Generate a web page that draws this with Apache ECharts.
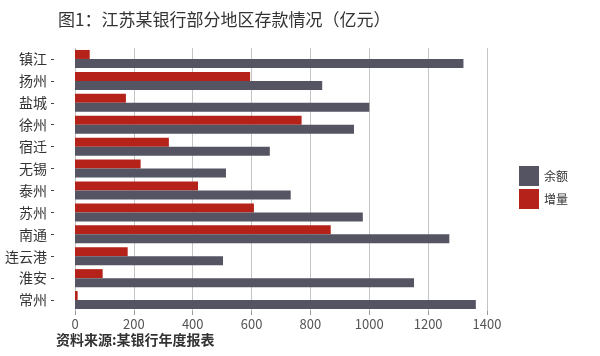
<!DOCTYPE html>
<html><head><meta charset="utf-8">
<script src="https://cdn.jsdelivr.net/npm/echarts@6/dist/echarts.min.js"></script>
<style>html,body{margin:0;padding:0;background:#fff}#c{width:600px;height:356px}</style>
</head><body><div id="c"></div>
<script>
const categories = ['镇江','扬州','盐城','徐州','宿迁','无锡','泰州','苏州','南通','连云港','淮安','常州'];
const balance = [1320, 840, 1000, 948, 662, 513, 733, 978, 1272, 503, 1152, 1362];
const increase = [50, 595, 173, 770, 319, 223, 418, 608, 869, 179, 94, 9];
const xTicks = [0, 200, 400, 600, 800, 1000, 1200, 1400];
const titleText = '图1：江苏某银行部分地区存款情况（亿元）';
const sourceText = '资料来源:某银行年度报表';

const FONT = '"Noto Sans CJK SC", "Noto Sans", sans-serif';
const chart = echarts.init(document.getElementById('c'), null, {renderer: 'canvas'});
chart.setOption({
  animation: false,
  backgroundColor: '#fff',
  title: {
    text: titleText, left: 53, top: 6,
    textStyle: {fontFamily: FONT, fontSize: 17, fontWeight: 'normal', color: '#333'}
  },
  graphic: [{
    type: 'text', left: 56, top: 333,
    style: {text: sourceText, font: 'bold 14px ' + FONT, fill: '#333'}
  }],
  legend: {
    orient: 'vertical', left: 514, top: 161,
    icon: 'rect',
    itemWidth: 20, itemHeight: 20, itemGap: 3,
    data: ['余额', '增量'],
    textStyle: {fontFamily: FONT, fontSize: 12, color: '#333'}
  },
  grid: {left: 75, right: 113, top: 48, bottom: 45, containLabel: false},
  xAxis: {
    type: 'value', min: xTicks[0], max: xTicks[xTicks.length - 1], interval: 200,
    axisLine: {show: false},
    axisTick: {show: true, length: 4, lineStyle: {color: '#999'}},
    axisLabel: {fontFamily: FONT, fontSize: 13, color: '#555', margin: 7,
      formatter: v => String(v)},
    splitLine: {show: true, lineStyle: {color: '#c4c4c4', width: 1}}
  },
  yAxis: {
    type: 'category', data: categories, inverse: true, offset: 21,
    axisLine: {show: false},
    axisTick: {show: true, interval: 0, inside: false, length: 24, alignWithLabel: true,
      lineStyle: {color: '#444', width: 1, type: [0, 21, 3, 60]}},
    axisLabel: {fontFamily: FONT, fontSize: 14, color: '#333', margin: 7, interval: 0}
  },
  series: [
    {name: '增量', type: 'bar', data: increase, barWidth: 9, barGap: '0%',
     itemStyle: {color: '#b5221a'}},
    {name: '余额', type: 'bar', data: balance, barWidth: 9, barGap: '0%',
     itemStyle: {color: '#545463'}}
  ]
});
</script></body></html>
